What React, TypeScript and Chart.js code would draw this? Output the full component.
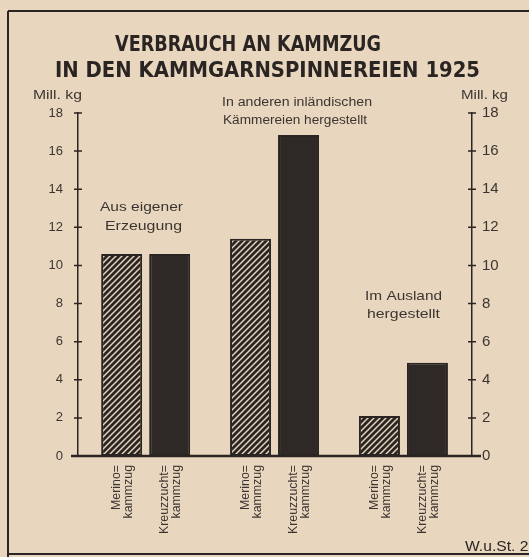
import React, { useEffect, useRef } from 'react';
import { Chart, registerables } from 'chart.js';

Chart.register(...registerables);

// ---- data ----
const TITLE_LINES = ['VERBRAUCH AN KAMMZUG', 'IN DEN KAMMGARNSPINNEREIEN 1925'];
const UNIT = 'Mill. kg';
const SOURCE = 'W.u.St. 27';
const GROUP_LABELS = [
  ['Aus eigener', 'Erzeugung'],
  ['In anderen inländischen', 'Kämmereien hergestellt'],
  ['Im Ausland', 'hergestellt'],
];
const SERIES_NAMES = ['Merinokammzug', 'Kreuzzuchtkammzug'];
const BAR_LABELS = [
  ['Merino=', 'kammzug'],
  ['Kreuzzucht=', 'kammzug'],
];
const MERINO = [10.6, 11.4, 2.1];
const KREUZZUCHT = [10.6, 16.85, 4.9];
const Y_TICKS = [0, 2, 4, 6, 8, 10, 12, 14, 16, 18];

// ---- style ----
const PAPER = '#e8d7be';
const INK = '#2a2522';
const BAR_FILL = '#2e2926';
const SOFT_TEXT = '#3b3532';
const SANS = '"Liberation Sans", Arial, sans-serif';

function makeHatch(dark: string, light: string) {
  const s = 6;
  const c = document.createElement('canvas');
  c.width = s;
  c.height = s;
  const g = c.getContext('2d')!;
  g.fillStyle = dark;
  g.fillRect(0, 0, s, s);
  g.strokeStyle = light;
  g.lineWidth = 1.5;
  g.beginPath();
  g.moveTo(0, s);
  g.lineTo(s, 0);
  g.moveTo(-s / 2, s / 2);
  g.lineTo(s / 2, -s / 2);
  g.moveTo(s / 2, s * 1.5);
  g.lineTo(s * 1.5, s / 2);
  g.stroke();
  return g.createPattern(c, 'repeat')!;
}

function fitText(
  ctx: CanvasRenderingContext2D,
  text: string,
  x: number,
  y: number,
  font: string,
  width: number,
  color: string
) {
  ctx.save();
  ctx.font = font;
  ctx.fillStyle = color;
  ctx.textAlign = 'left';
  ctx.textBaseline = 'alphabetic';
  const w = ctx.measureText(text).width;
  ctx.translate(x, y);
  ctx.scale(width / w, 1);
  ctx.fillText(text, 0, 0);
  ctx.restore();
}

const decorPlugin = {
  id: 'decor',
  beforeDraw(chart: any) {
    const ctx: CanvasRenderingContext2D = chart.ctx;
    ctx.save();
    ctx.fillStyle = PAPER;
    ctx.fillRect(0, 0, chart.width, chart.height);
    ctx.strokeStyle = INK;
    ctx.lineWidth = 2;
    ctx.beginPath();
    ctx.moveTo(8, 11);
    ctx.lineTo(8, chart.height);
    ctx.moveTo(8, 11);
    ctx.lineTo(chart.width, 11);
    ctx.moveTo(8, 554);
    ctx.lineTo(chart.width, 554);
    ctx.stroke();
    ctx.restore();
  },
  afterDraw(chart: any) {
    const ctx: CanvasRenderingContext2D = chart.ctx;
    const area = chart.chartArea;
    const yL = chart.scales.y;
    const yR = chart.scales.y2;

    // baseline
    ctx.save();
    ctx.strokeStyle = INK;
    ctx.lineWidth = 2.5;
    ctx.beginPath();
    ctx.moveTo(area.left - 7, area.bottom);
    ctx.lineTo(area.right + 9, area.bottom);
    ctx.stroke();

    // crossing tick marks
    ctx.lineWidth = 1.5;
    ctx.beginPath();
    Y_TICKS.forEach((v) => {
      if (v === 0) return;
      const pl = yL.getPixelForValue(v);
      ctx.moveTo(area.left - 4, pl);
      ctx.lineTo(area.left + 4, pl);
      const pr = yR.getPixelForValue(v);
      ctx.moveTo(area.right - 4, pr);
      ctx.lineTo(area.right + 4, pr);
    });
    ctx.stroke();
    ctx.restore();

    // title
    const titleFont = 'bold 22px "DejaVu Sans", sans-serif';
    fitText(ctx, TITLE_LINES[0], 115, 51, titleFont, 266, INK);
    fitText(ctx, TITLE_LINES[1], 55, 77, titleFont, 425, INK);

    // unit labels
    const unitFont = `12px ${SANS}`;
    fitText(ctx, UNIT, 33, 99, unitFont, 49, SOFT_TEXT);
    fitText(ctx, UNIT, 461, 99, unitFont, 47, SOFT_TEXT);

    // group annotations
    const annFont = `13px ${SANS}`;
    fitText(ctx, GROUP_LABELS[1][0], 222, 106, `12.5px ${SANS}`, 150, SOFT_TEXT);
    fitText(ctx, GROUP_LABELS[1][1], 223, 124, `12.5px ${SANS}`, 144, SOFT_TEXT);
    fitText(ctx, GROUP_LABELS[0][0], 100, 211, annFont, 83, SOFT_TEXT);
    fitText(ctx, GROUP_LABELS[0][1], 105, 230, annFont, 77, SOFT_TEXT);
    fitText(ctx, GROUP_LABELS[2][0], 365, 300, `13.5px ${SANS}`, 77, SOFT_TEXT);
    fitText(ctx, GROUP_LABELS[2][1], 367, 318, `13.5px ${SANS}`, 73, SOFT_TEXT);

    // rotated bar labels
    ctx.save();
    ctx.fillStyle = SOFT_TEXT;
    ctx.font = `13px ${SANS}`;
    ctx.textAlign = 'right';
    ctx.textBaseline = 'middle';
    for (let d = 0; d < 2; d++) {
      const meta = chart.getDatasetMeta(d);
      meta.data.forEach((el: any) => {
        ctx.save();
        ctx.translate(el.x + 1, area.bottom + 9);
        ctx.rotate(-Math.PI / 2);
        ctx.scale(0.95, 1);
        ctx.fillText(BAR_LABELS[d][0], 0, -6);
        ctx.fillText(BAR_LABELS[d][1], 0, 6);
        ctx.restore();
      });
    }
    ctx.restore();

    // source
    fitText(ctx, SOURCE, 465, 551, `15px ${SANS}`, 72, INK);
  },
};

export default function App() {
  const ref = useRef<HTMLCanvasElement | null>(null);

  useEffect(() => {
    const canvas = ref.current;
    if (!canvas) return;
    const hatch = makeHatch(INK, '#e3d3ba');
    const tickFont = (size: number) => ({ family: SANS, size });

    const chart = new Chart(canvas, {
      type: 'bar',
      data: {
        datasets: [
          {
            label: SERIES_NAMES[0],
            data: MERINO.map((v, i) => ({ x: i, y: v })),
            backgroundColor: hatch as any,
            borderColor: INK,
            borderWidth: 2,
            borderSkipped: false,
            categoryPercentage: 0.745,
            barPercentage: 0.854,
          },
          {
            label: SERIES_NAMES[1],
            data: KREUZZUCHT.map((v, i) => ({ x: i, y: v })),
            backgroundColor: BAR_FILL,
            borderColor: INK,
            borderWidth: 2,
            borderSkipped: false,
            categoryPercentage: 0.745,
            barPercentage: 0.854,
          },
        ],
      } as any,
      options: {
        responsive: false,
        animation: false,
        devicePixelRatio: 1,
        layout: { padding: { top: 113, bottom: 101, left: 0, right: 0 } },
        scales: {
          x: {
            type: 'linear',
            min: -0.525,
            max: 2.532,
            display: false,
            offset: false,
            afterBuildTicks: (s: any) => {
              s.ticks = GROUP_LABELS.map((_, i) => ({ value: i }));
            },
          },
          y: {
            position: 'left',
            min: 0,
            max: 18,
            afterFit: (s: any) => {
              s.width = 78;
            },
            ticks: { stepSize: 2, padding: 15, color: SOFT_TEXT, font: tickFont(13) },
            grid: { display: false, drawTicks: false },
            border: { display: true, color: INK, width: 1.5 },
          },
          y2: {
            position: 'right',
            min: 0,
            max: 18,
            afterFit: (s: any) => {
              s.width = 57;
            },
            ticks: { stepSize: 2, padding: 10, color: SOFT_TEXT, font: tickFont(15) },
            grid: { display: false, drawTicks: false },
            border: { display: true, color: INK, width: 1.5 },
          },
        } as any,
        plugins: {
          legend: { display: false },
          tooltip: { enabled: false },
        },
      },
      plugins: [decorPlugin],
    });
    return () => chart.destroy();
  }, []);

  return (
    <div
      style={{
        position: 'fixed',
        left: 0,
        top: 0,
        width: 529,
        height: 557,
        background: PAPER,
        overflow: 'hidden',
      }}
    >
      <canvas ref={ref} width={529} height={557} style={{ display: 'block' }} />
    </div>
  );
}
